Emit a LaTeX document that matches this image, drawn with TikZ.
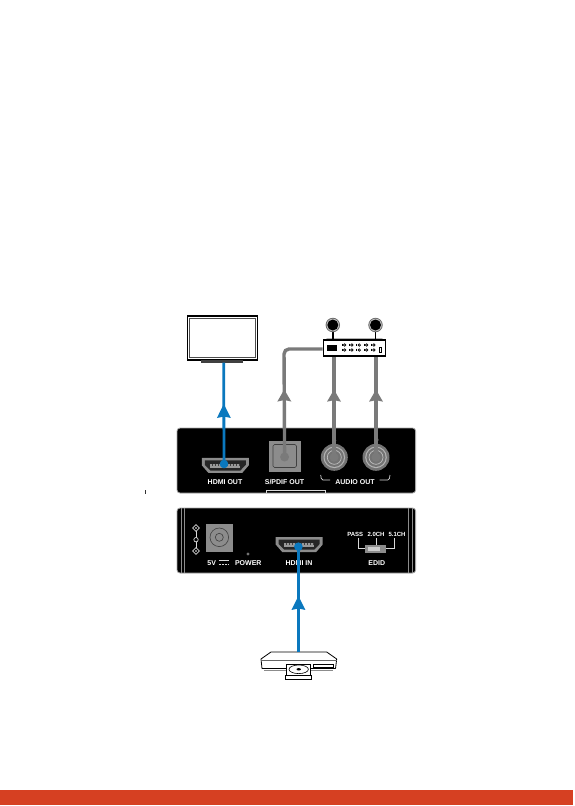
\documentclass[tikz,border=0pt]{standalone}
\usepackage{fontspec}
\setsansfont{Liberation Sans}
\usepackage{tikz}
\usetikzlibrary{arrows.meta,positioning,calc,decorations.markings}
\definecolor{cableblue}{HTML}{0A78BE}
\definecolor{cablegrey}{HTML}{7A7A7A}
\definecolor{portgrey}{HTML}{8C8C8C}
\definecolor{barred}{HTML}{D64022}

\begin{document}
\begin{tikzpicture}[
  x=1pt, y=-1pt,
  panel/.style={draw=black!35, line width=0.8pt, fill=black, rounded corners=3pt},
  outline/.style={draw=black, line width=1.1pt, fill=white},
  white line/.style={line width=0.7pt, white!85!black},
  seam/.style={line width=0.6pt, black!45},
  lab/.style={font=\sffamily\bfseries\fontsize{7}{8}\selectfont, text=white, inner sep=0pt},
  edid lab/.style={font=\sffamily\bfseries\fontsize{6}{7}\selectfont, text=white, inner sep=0pt},
  tiny lab/.style={font=\sffamily\bfseries\fontsize{3.5}{4}\selectfont, text=white, inner sep=0pt},
  blueline/.style n args={1}{line width=2.8pt, cableblue, postaction={decorate},
    decoration={markings, mark=at position #1 with {\arrow[cableblue, line width=0pt]{Stealth[length=14pt,width=14pt,inset=1.5pt]}}}},
  greyline/.style n args={1}{line width=3.4pt, cablegrey, rounded corners=5pt, postaction={decorate},
    decoration={markings, mark=at position #1 with {\arrow[cablegrey, line width=0pt]{Stealth[length=12pt,width=14pt,inset=1.5pt]}}}},
  hdmiport/.pic={
    \fill[portgrey] (-23.5,-7.5) -- (23.5,-7.5) -- (23.5,0) -- (17,7.5) -- (-17,7.5) -- (-23.5,0) -- cycle;
    \fill[black!85] (-20.5,-5) -- (20.5,-5) -- (20.5,-0.5) -- (15,5.2) -- (-15,5.2) -- (-20.5,-0.5) -- cycle;
    \fill[black!40] (-15,-1.2) rectangle (15,2.8);
    \foreach \tx in {-13,-10,...,14}{\fill[black!75] (\tx,-1.2) rectangle ++(1,1.6);}
  },
  speaker/.pic={
    \draw[black, line width=1.4pt] (0,6) -- (0,14);
    \fill[black!60] (0,0) circle (7.2);
    \fill[white!75!black] (0,0) circle (6.3);
    \fill[black] (0,0) circle (5.5);
  },
  rcajack/.pic={
    \fill[black!55] (0,0) circle (13.5);
    \fill[black!30] (0,0) circle (10.8);
    \fill[black!55] (0,0) circle (9.6);
    \draw[black!25, line width=0.7pt] (0,0) circle (7);
    \fill[black!55] (0,0) circle (4.5);
  }]

\useasboundingbox (0,0) rectangle (574,806);

% ---- bottom bar ----------------------------------------------------------
\fill[barred] (0,790) rectangle (573,805.4);
\fill[black!80] (145,490) rectangle (146,494);

% ---- the two panels ------------------------------------------------------
\node[panel, minimum width=238.6pt, minimum height=65pt, inner sep=0pt] (outpanel) at (296.3,460.5) {};
\node[panel, minimum width=238.6pt, minimum height=65pt, inner sep=0pt] (inpanel)  at (296.3,540.5) {};

% ---- seams of the lower panel ---------------------------------------------
\draw[seam] (181,508) -- (181,573) (184.7,508) -- (184.7,573);
\draw[seam] (408.3,508) -- (408.3,573) (412.5,508) -- (412.5,573);

% ---- output side ---------------------------------------------------------
\pic at (225.3,465.3) {hdmiport};
\coordinate (hdmiout) at (224,464);
\node[lab] (hdmioutlab) at (225,481.7) {HDMI OUT};

\node[fill=black!45, draw=black!45, minimum size=30.5pt, inner sep=0pt] (spdif) at (284.6,456.4) {};
\draw[black!75, line width=0.6pt, rounded corners=1.5pt] (273,444.5) rectangle (296.5,467.5);
\coordinate (spdifdot) at (284.6,457);
\node[lab] (spdiflab) at (284.5,481.7) {S/PDIF OUT};
\draw[white line] (266.7,493) -- (266.7,490) -- (325.7,490) -- (325.7,493);

\pic at (334.3,457.3) {rcajack};
\pic at (376,457.3) {rcajack};
\coordinate (jackl) at (334,457.3);
\coordinate (jackr) at (376,457.3);
\node[tiny lab] (llab) at (335.5,440) {L};
\node[tiny lab] (rlab) at (377.5,440) {R};
\node[lab] (audiolab) at (355,481.7) {AUDIO OUT};
\draw[white line, rounded corners=1.5pt] (320.7,475) -- (321.5,480) -- (330,480);
\draw[white line, rounded corners=1.5pt] (390,475) -- (389.2,480) -- (379.5,480);

% ---- input side ----------------------------------------------------------
\foreach \dy in {528,551}{
  \draw[white line, fill=black] (196,\dy-3.4) -- (199.4,\dy) -- (196,\dy+3.4) -- (192.6,\dy) -- cycle;
  \fill[white] (196,\dy) circle (0.9);
}
\draw[white line] (196,531.4) -- (196,547.6);
\draw[white line, fill=black] (196,539.7) circle (2.2);

\node[fill=black!45, minimum size=27.5pt, inner sep=0pt] (dcjack) at (219.3,537.8) {};
\draw[black!75, line width=0.6pt] (219.3,537.3) circle (9.3) circle (4);
\node[lab] (fivev) at (211.7,562.7) {5V};
\draw[white line] (218.7,560.6) -- (229,560.6);
\draw[white line, dash pattern=on 2pt off 1pt] (218.7,564) -- (229,564);
\fill[black!55] (248,554) circle (1.6);
\node[lab] (powerlab) at (248.3,562.7) {POWER};

\pic at (299.2,544.5) {hdmiport};
\coordinate (hdmiin) at (298.4,546.7);
\node[lab] (hdmiinlab) at (299,562.7) {HDMI IN};

\node[edid lab] (passlab) at (355.3,534) {PASS};
\node[edid lab] (twolab)  at (376,534) {2.0CH};
\node[edid lab] (fivelab) at (397,534) {5.1CH};
\node[fill=black!45, minimum width=20.7pt, minimum height=7.7pt, inner sep=0pt] (edidsw) at (375.4,548.9) {};
\fill[black!20] (368,546.5) rectangle (380,551.3);
\draw[white line] (358.3,538.3) -- (358.3,548.3) -- (edidsw.west |- 0,548.3);
\draw[white line] (376,538.3) -- (edidsw.north -| 376,0);
\draw[white line] (394,538.3) -- (394,548.3) -- (edidsw.east |- 0,548.3);
\node[lab] (edidlab) at (376.7,563) {EDID};

% ---- the television -------------------------------------------------------
\node[outline, minimum width=70pt, minimum height=44pt, inner sep=0pt] (tv) at (222.5,338) {};
\draw[black!70, line width=0.5pt] (189.5,318) rectangle (255.5,357);
\node[fill=black!75, minimum width=42pt, minimum height=2.6pt, inner sep=0pt] (tvstand) at (222,361.3) {};

% ---- the audio receiver and its speakers -----------------------------------
\fill[black!30] (325,340) -- (327,338) -- (382,338) -- (384,340) -- cycle;
\pic at (332.8,325) {speaker};
\pic at (375.5,325) {speaker};
\node[outline, minimum width=62.7pt, minimum height=16pt, inner sep=0pt] (receiver) at (354.5,348) {};
\fill[black] (326.7,345) rectangle (336.7,351);
\foreach \cx in {344,351.3,358.7,366,373.3}
  \foreach \cy in {345,350}{
    \draw[black, line width=0.9pt] (\cx-1.9,\cy-1.4) -- (\cx-1.9,\cy+1.4);
    \draw[black, line width=0.7pt] (\cx+0.6,\cy) circle (1.2);
  }
\draw[black, line width=0.5pt] (379.7,347.7) rectangle (381.7,352.3);

% ---- the disc player --------------------------------------------------------
\draw[black, line width=0.8pt, fill=white, line join=round]
  (271,652) -- (326.7,652) -- (336.7,659) -- (335.5,668.5) -- (262,668.5) -- (261,659) -- cycle;
\draw[black!60, line width=0.4pt] (261,660) -- (336.7,660);
\draw[black!45, line width=0.9pt] (264,670) -- (333,670);
\node[outline, line width=0.9pt, minimum width=23.3pt, minimum height=11pt, inner sep=0pt] (tray) at (298.4,669.5) {};
\node[outline, minimum width=26.7pt, minimum height=3.6pt, inner sep=0pt] (trayfront) at (298.4,677.5) {};
\draw[black, line width=0.6pt] (298.7,669.3) ellipse (9.7 and 4.3);
\fill[black] (298.7,669.3) ellipse (2.2 and 1.2);
\draw[black, line width=0.8pt] (313.3,664) rectangle (333.3,667.3);
\coordinate (player) at (298.4,652);

% ---- the cables --------------------------------------------------------------
\coordinate (tvin) at (223.7,362.5);
\draw[blueline=0.591] (hdmiout) -- (tvin);
\fill[cableblue] (hdmiout) circle (4.3);
\draw[blueline=0.532] (player) -- (hdmiin);
\fill[cableblue] (hdmiin) circle (4.3);

\coordinate (spdifcorner) at (284,349);
\draw[greyline=0.467] (spdifdot) -- (spdifcorner) -- (receiver.west |- spdifcorner);
\fill[cablegrey] (spdifdot) circle (4.5);
\draw[greyline=0.671] (jackl) -- (jackl |- receiver.south);
\fill[cablegrey] (jackl) circle (4.5);
\draw[greyline=0.671] (jackr) -- (jackr |- receiver.south);
\fill[cablegrey] (jackr) circle (4.5);

\end{tikzpicture}
\end{document}
